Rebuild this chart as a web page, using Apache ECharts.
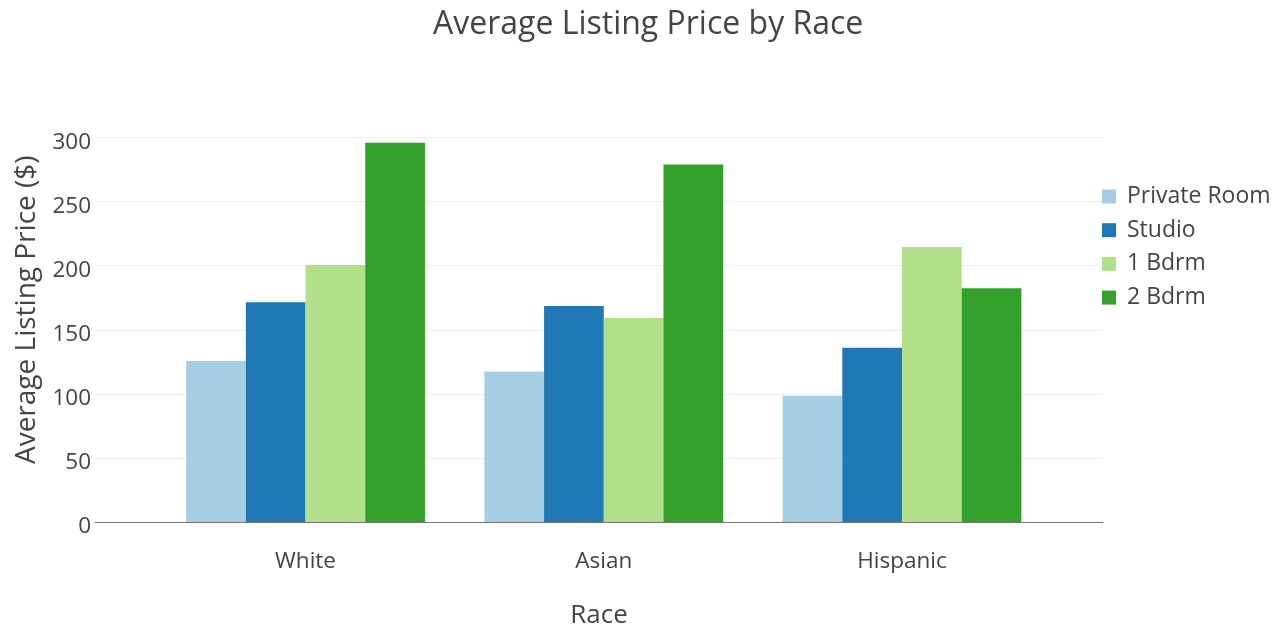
<!DOCTYPE html>
<html>
  <head>
    <meta charset="UTF-8" />
    <title>Average Listing Price by Race</title>
    <script src="https://cdn.jsdelivr.net/npm/echarts@6/dist/echarts.min.js"></script>
  </head>
  <body style="margin: 0">
    <div id="chart" style="width: 1286px; height: 635px"></div>
    <script>
      var races = ["White", "Asian", "Hispanic"];
      var roomTypes = ["Private Room", "Studio", "1 Bdrm", "2 Bdrm"];
      var privateRoom = [125.6, 117.5, 98.5];
      var studio = [171.4, 168.5, 136];
      var oneBdrm = [200.5, 159.1, 214.5];
      var twoBdrm = [295.9, 279, 182.3];
      var colors = ["#a6cee3", "#1f78b4", "#b2df8a", "#33a02c"];

      var values = [privateRoom, studio, oneBdrm, twoBdrm];
      var font = "Open Sans";
      var series = [];
      for (var s = 0; s < roomTypes.length; s++) {
        series.push({
          name: roomTypes[s],
          type: "bar",
          barWidth: 59.7,
          barGap: "0%",
          itemStyle: { color: colors[s] },
          // category index as x, so the value axis keeps plotly's padding
          data: values[s].map(function (v, i) {
            return [i, v];
          }),
        });
      }

      var myChart = echarts.init(document.getElementById("chart"));
      myChart.setOption({
        backgroundColor: "#fff",
        textStyle: { fontFamily: font },
        title: {
          text: "Average Listing Price by Race",
          left: 428,
          top: 4,
          textStyle: {
            fontFamily: font,
            fontSize: 32,
            fontWeight: "normal",
            color: "#444",
          },
        },
        legend: {
          orient: "vertical",
          left: 1097,
          top: 180,
          icon: "rect",
          itemWidth: 14,
          itemHeight: 14,
          itemGap: 10.7,
          data: roomTypes,
          textStyle: {
            fontFamily: font,
            fontSize: 23,
            lineHeight: 23,
            color: "#444",
            padding: [0, 0, 0, 6],
          },
        },
        grid: { left: 95, right: 183, top: 137.5, bottom: 113 },
        xAxis: {
          type: "value",
          min: -0.706,
          max: 2.674,
          name: "Race",
          nameLocation: "middle",
          nameGap: 81,
          nameTextStyle: { fontSize: 26, color: "#444" },
          axisLine: { lineStyle: { color: "#777", width: 1 } },
          axisTick: { show: false },
          splitLine: { show: false },
          axisLabel: {
            customValues: [0, 1, 2],
            formatter: function (v) {
              return races[v];
            },
            fontSize: 22.5,
            color: "#444",
            margin: 28,
          },
        },
        yAxis: {
          type: "value",
          min: 0,
          max: 300,
          interval: 50,
          name: "Average Listing Price ($)",
          nameLocation: "middle",
          nameGap: 48,
          // left padding pushes the rotated title up, like plotly's domain
          nameTextStyle: { fontSize: 28, color: "#444", padding: [0, 0, 0, 40] },
          axisLine: { show: false },
          axisTick: { show: false },
          axisLabel: {
            color: "#444",
            margin: 4,
            formatter: function (v) {
              return "{t|" + v + "}";
            },
            rich: {
              t: { fontSize: 22.5, color: "#444", padding: [10, 0, 0, 0] },
            },
          },
          splitLine: { lineStyle: { color: "#eee", width: 1 } },
        },
        series: series,
      });
    </script>
  </body>
</html>
